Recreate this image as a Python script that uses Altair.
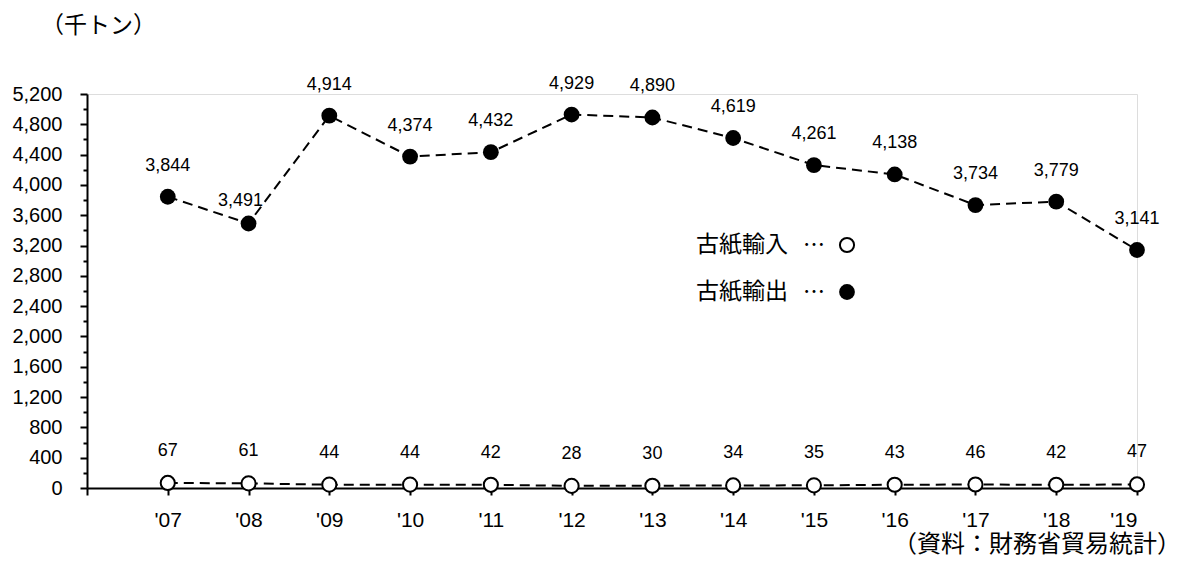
import altair as alt
import pandas as pd

years = list(range(2007, 2020))
export_vals = [3844, 3491, 4914, 4374, 4432, 4929, 4890, 4619, 4261, 4138, 3734, 3779, 3141]
import_vals = [67, 61, 44, 44, 42, 28, 30, 34, 35, 43, 46, 42, 47]
series_names = ["古紙輸入", "古紙輸出"]
y_ticks = list(range(0, 5201, 200))
x_ticks = list(range(2006, 2020))
unit_label = "（千トン）"
source_label = "（資料：財務省貿易統計）"
dots = "…"

exp_df = pd.DataFrame({"year": years, "value": export_vals})
imp_df = pd.DataFrame({"year": years, "value": import_vals})

JP = "Noto Sans CJK JP"
NUM = "Liberation Sans"

xs = alt.Scale(domain=[2006, 2019], nice=False, zero=False)
ys = alt.Scale(domain=[0, 5200], nice=False)

x_axis = alt.Axis(
    values=x_ticks,
    labelExpr="datum.value == 2006 ? '' : \"'\" + slice(toString(datum.value), 2)",
    grid=False, tickSize=7, tickWidth=2, tickColor="black",
    domainWidth=2, domainColor="black",
    labelFontSize=21, labelFont=NUM, labelColor="black", labelPadding=14,
    title=None, labelOverlap=False,
)
y_axis = alt.Axis(
    values=y_ticks,
    labelExpr="datum.value % 400 === 0 ? format(datum.value, ',') : ''",
    grid=False,
    tickSize={"condition": {"test": "datum.value % 400 === 0", "value": 7}, "value": 4},
    tickWidth=2, tickColor="black",
    domainWidth=2, domainColor="black",
    labelFontSize=20, labelFont=NUM, labelColor="black", labelPadding=18,
    title=None, labelOverlap=False,
)

X = alt.X("year:Q", scale=xs, axis=x_axis)
Y = alt.Y("value:Q", scale=ys, axis=y_axis)

exp_base = alt.Chart(exp_df).encode(x=X, y=Y)
imp_base = alt.Chart(imp_df).encode(x=X, y=Y)

line_style = dict(strokeDash=[10, 6], strokeWidth=2, color="black")

exp_line = exp_base.mark_line(**line_style)
imp_line = imp_base.mark_line(**line_style)
exp_pts = exp_base.mark_point(shape="circle", filled=True, size=250, color="black", opacity=1)
imp_pts = imp_base.mark_point(shape="circle", filled=True, size=200, fill="white", stroke="black",
                              strokeWidth=2, opacity=1)

exp_lbl = exp_base.transform_filter("datum.year != 2008").mark_text(
    dy=-31, fontSize=18, font=NUM, color="black").encode(text=alt.Text("value:Q", format=","))
exp_lbl2 = exp_base.transform_filter("datum.year == 2008").mark_text(
    dy=-22, dx=-8, fontSize=18, font=NUM, color="black").encode(text=alt.Text("value:Q", format=","))
imp_lbl = imp_base.mark_text(dy=-32, fontSize=18, font=NUM, color="black").encode(
    text=alt.Text("value:Q", format=","))


def deco_text(txt, x, y, size, align="left"):
    return alt.Chart(pd.DataFrame({"t": [txt]})).mark_text(
        font=JP, fontSize=size, color="black", align=align, baseline="middle"
    ).encode(text="t:N", x=alt.value(x), y=alt.value(y))


unit_t = deco_text(unit_label, -46, -68, 23)
source_t = deco_text(source_label, 1094, 451, 24, align="right")
leg1 = deco_text(series_names[0], 609, 151, 23)
leg2 = deco_text(series_names[1], 609, 198, 23)
dots1 = deco_text(dots, 727, 151, 22, align="center")
dots2 = deco_text(dots, 727, 198, 22, align="center")
leg_c1 = alt.Chart(pd.DataFrame({"n": [series_names[0]]})).mark_point(
    shape="circle", filled=True, size=200, fill="white", stroke="black", strokeWidth=2, opacity=1
).encode(x=alt.value(760), y=alt.value(151))
leg_c2 = alt.Chart(pd.DataFrame({"n": [series_names[1]]})).mark_point(
    shape="circle", filled=True, size=250, color="black", opacity=1
).encode(x=alt.value(760), y=alt.value(198))

chart = alt.layer(
    exp_line, imp_line, exp_pts, imp_pts, exp_lbl, exp_lbl2, imp_lbl,
    unit_t, source_t, leg1, leg2, dots1, dots2, leg_c1, leg_c2,
).properties(
    width=1050, height=394,
    autosize=alt.AutoSizeParams(type="none"),
    padding={"left": 79, "top": 86, "right": 45, "bottom": 70},
).configure_view(stroke=None).configure(background="white").configure_axis(labelOverlap=False)

chart.save("out.html", embed_options={"renderer": "svg", "actions": False})
